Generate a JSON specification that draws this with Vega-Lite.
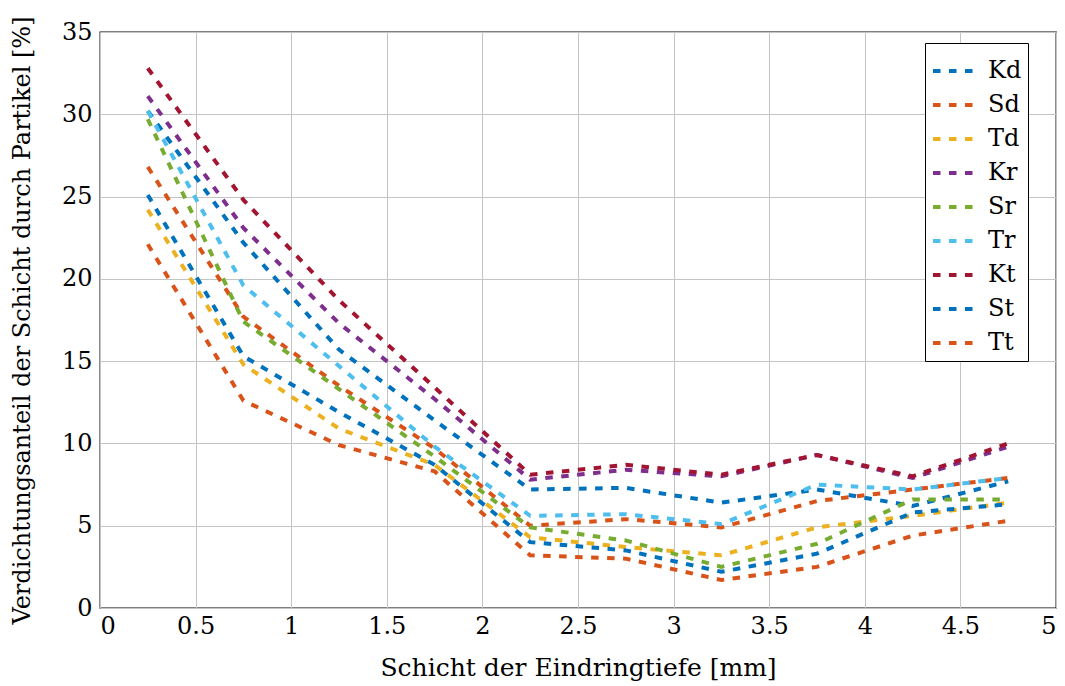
{
  "$schema": "https://vega.github.io/schema/vega-lite/v6.json",
  "width": 956,
  "height": 576,
  "autosize": {"type": "none"},
  "padding": {"left": 100, "top": 32, "right": 9, "bottom": 78},
  "background": "white",
  "config": {
    "font": "DejaVu Serif",
    "view": {"stroke": "#000000", "strokeWidth": 1.3},
    "axis": {
      "domain": false,
      "ticks": false,
      "tickSize": 0,
      "grid": true,
      "gridColor": "#c4c4c4",
      "gridWidth": 1,
      "labelColor": "#000000",
      "titleFontWeight": "normal",
      "titleColor": "#000000"
    }
  },
  "data": {
    "values": [
      {"s": "Kd", "x": 0.25, "y": 30.2}, {"s": "Kd", "x": 0.75, "y": 22.2}, {"s": "Kd", "x": 1.25, "y": 15.7}, {"s": "Kd", "x": 1.75, "y": 11.4}, {"s": "Kd", "x": 2.25, "y": 7.2}, {"s": "Kd", "x": 2.75, "y": 7.3}, {"s": "Kd", "x": 3.25, "y": 6.4}, {"s": "Kd", "x": 3.75, "y": 7.2}, {"s": "Kd", "x": 4.25, "y": 6.2}, {"s": "Kd", "x": 4.75, "y": 7.7},
      {"s": "Sd", "x": 0.25, "y": 26.8}, {"s": "Sd", "x": 0.75, "y": 17.7}, {"s": "Sd", "x": 1.25, "y": 13.5}, {"s": "Sd", "x": 1.75, "y": 9.7}, {"s": "Sd", "x": 2.25, "y": 5.0}, {"s": "Sd", "x": 2.75, "y": 5.4}, {"s": "Sd", "x": 3.25, "y": 4.9}, {"s": "Sd", "x": 3.75, "y": 6.5}, {"s": "Sd", "x": 4.25, "y": 7.2}, {"s": "Sd", "x": 4.75, "y": 7.9},
      {"s": "Td", "x": 0.25, "y": 24.2}, {"s": "Td", "x": 0.75, "y": 14.8}, {"s": "Td", "x": 1.25, "y": 10.9}, {"s": "Td", "x": 1.75, "y": 8.7}, {"s": "Td", "x": 2.25, "y": 4.3}, {"s": "Td", "x": 2.75, "y": 3.7}, {"s": "Td", "x": 3.25, "y": 3.2}, {"s": "Td", "x": 3.75, "y": 4.9}, {"s": "Td", "x": 4.25, "y": 5.6}, {"s": "Td", "x": 4.75, "y": 6.4},
      {"s": "Kr", "x": 0.25, "y": 31.1}, {"s": "Kr", "x": 0.75, "y": 23.1}, {"s": "Kr", "x": 1.25, "y": 17.3}, {"s": "Kr", "x": 1.75, "y": 12.7}, {"s": "Kr", "x": 2.25, "y": 7.8}, {"s": "Kr", "x": 2.75, "y": 8.4}, {"s": "Kr", "x": 3.25, "y": 8.0}, {"s": "Kr", "x": 3.75, "y": 9.3}, {"s": "Kr", "x": 4.25, "y": 7.9}, {"s": "Kr", "x": 4.75, "y": 9.8},
      {"s": "Sr", "x": 0.25, "y": 29.7}, {"s": "Sr", "x": 0.75, "y": 17.4}, {"s": "Sr", "x": 1.25, "y": 13.3}, {"s": "Sr", "x": 1.75, "y": 9.2}, {"s": "Sr", "x": 2.25, "y": 4.9}, {"s": "Sr", "x": 2.75, "y": 4.1}, {"s": "Sr", "x": 3.25, "y": 2.5}, {"s": "Sr", "x": 3.75, "y": 3.9}, {"s": "Sr", "x": 4.25, "y": 6.6}, {"s": "Sr", "x": 4.75, "y": 6.6},
      {"s": "Tr", "x": 0.25, "y": 30.2}, {"s": "Tr", "x": 0.75, "y": 19.6}, {"s": "Tr", "x": 1.25, "y": 14.7}, {"s": "Tr", "x": 1.75, "y": 9.8}, {"s": "Tr", "x": 2.25, "y": 5.6}, {"s": "Tr", "x": 2.75, "y": 5.7}, {"s": "Tr", "x": 3.25, "y": 5.1}, {"s": "Tr", "x": 3.75, "y": 7.5}, {"s": "Tr", "x": 4.25, "y": 7.2}, {"s": "Tr", "x": 4.75, "y": 7.9},
      {"s": "Kt", "x": 0.25, "y": 32.8}, {"s": "Kt", "x": 0.75, "y": 24.8}, {"s": "Kt", "x": 1.25, "y": 18.7}, {"s": "Kt", "x": 1.75, "y": 13.4}, {"s": "Kt", "x": 2.25, "y": 8.1}, {"s": "Kt", "x": 2.75, "y": 8.7}, {"s": "Kt", "x": 3.25, "y": 8.1}, {"s": "Kt", "x": 3.75, "y": 9.3}, {"s": "Kt", "x": 4.25, "y": 8.0}, {"s": "Kt", "x": 4.75, "y": 10.0},
      {"s": "St", "x": 0.25, "y": 25.1}, {"s": "St", "x": 0.75, "y": 15.3}, {"s": "St", "x": 1.25, "y": 11.9}, {"s": "St", "x": 1.75, "y": 8.7}, {"s": "St", "x": 2.25, "y": 4.0}, {"s": "St", "x": 2.75, "y": 3.5}, {"s": "St", "x": 3.25, "y": 2.2}, {"s": "St", "x": 3.75, "y": 3.3}, {"s": "St", "x": 4.25, "y": 5.8}, {"s": "St", "x": 4.75, "y": 6.3},
      {"s": "Tt", "x": 0.25, "y": 22.1}, {"s": "Tt", "x": 0.75, "y": 12.6}, {"s": "Tt", "x": 1.25, "y": 9.9}, {"s": "Tt", "x": 1.75, "y": 8.3}, {"s": "Tt", "x": 2.25, "y": 3.2}, {"s": "Tt", "x": 2.75, "y": 3.0}, {"s": "Tt", "x": 3.25, "y": 1.7}, {"s": "Tt", "x": 3.75, "y": 2.5}, {"s": "Tt", "x": 4.25, "y": 4.4}, {"s": "Tt", "x": 4.75, "y": 5.3}
    ]
  },
  "mark": {"type": "line", "strokeWidth": 4, "strokeDash": [7.5, 8.5], "strokeCap": "butt", "clip": true},
  "encoding": {
    "x": {
      "field": "x",
      "type": "quantitative",
      "scale": {"domain": [0, 5], "nice": false, "zero": false},
      "axis": {
        "values": [0, 0.5, 1, 1.5, 2, 2.5, 3, 3.5, 4, 4.5, 5],
        "labelExpr": "'' + datum.value",
        "labelFont": "DejaVu Serif",
        "labelFontSize": 24,
        "labelPadding": 6,
        "title": "Schicht der Eindringtiefe [mm]",
        "titleFont": "DejaVu Serif",
        "titleFontSize": 25,
        "titleY": 67,
        "titleBaseline": "alphabetic"
      }
    },
    "y": {
      "field": "y",
      "type": "quantitative",
      "scale": {"domain": [0, 35], "nice": false},
      "axis": {
        "values": [0, 5, 10, 15, 20, 25, 30, 35],
        "labelFont": "DejaVu Serif",
        "labelFontSize": 24,
        "labelPadding": 8,
        "title": "Verdichtungsanteil der Schicht durch Partikel [%]",
        "titleFont": "DejaVu Serif",
        "titleFontSize": 24,
        "titleX": -78,
        "titleBaseline": "middle"
      }
    },
    "color": {
      "field": "s",
      "type": "nominal",
      "sort": ["Kd", "Sd", "Td", "Kr", "Sr", "Tr", "Kt", "St", "Tt"],
      "scale": {
        "domain": ["Kd", "Sd", "Td", "Kr", "Sr", "Tr", "Kt", "St", "Tt"],
        "range": ["#0072BD", "#D95319", "#EDB120", "#7E2F8E", "#77AC30", "#4DBEEE", "#A2142F", "#0072BD", "#D95319"]
      },
      "legend": {
        "title": null,
        "orient": "none",
        "legendX": 825,
        "legendY": 11,
        "strokeColor": "#000000",
        "fillColor": "#ffffff",
        "padding": 6,
        "symbolType": "stroke",
        "symbolSize": 1600,
        "symbolStrokeWidth": 4,
        "symbolDash": [7.5, 8.5],
        "labelFontSize": 24,
        "labelFont": "DejaVu Serif",
        "labelColor": "#000000",
        "labelOffset": 13,
        "rowPadding": 0
      }
    }
  }
}
